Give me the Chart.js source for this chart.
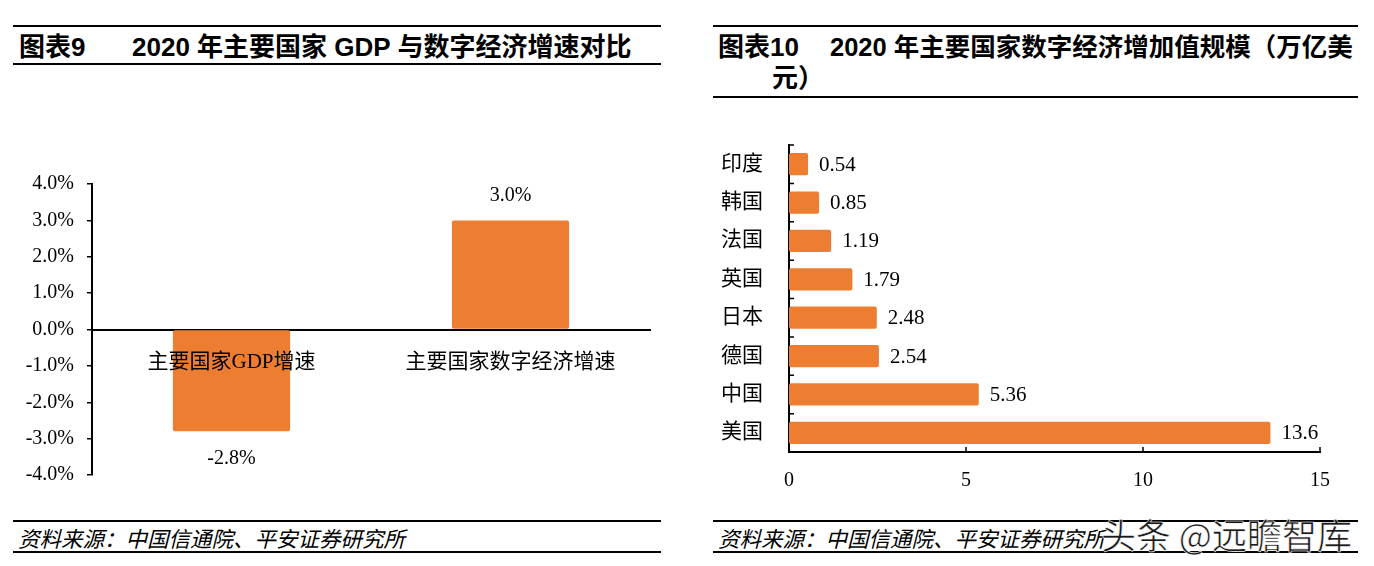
<!DOCTYPE html>
<html lang="zh">
<head>
  <meta charset="UTF-8" />
  <title>2020 年主要国家 GDP 与数字经济</title>
  <script src="https://cdn.jsdelivr.net/npm/chart.js"></script>
  <style>
    body {
      margin: 0;
      width: 1374px;
      height: 566px;
      background: #fff;
      position: relative;
      overflow: hidden;
      font-family: "Liberation Sans", "Noto Sans CJK SC", sans-serif;
    }
    .line { position: absolute; height: 2px; background: #000; }
    .title {
      position: absolute;
      font-weight: bold;
      font-size: 26px;
      color: #000;
      white-space: nowrap;
      line-height: 30px;
    }
    .source {
      position: absolute;
      font-style: italic;
      font-size: 21.5px;
      line-height: 24px;
      color: #000;
      font-family: "Noto Sans CJK SC", sans-serif;
      white-space: nowrap;
    }
    .mark {
      position: absolute;
      left: 1101px;
      top: 514px;
      font-size: 35px;
      line-height: 40px;
      color: #1a1a1a;
      font-family: "Noto Sans CJK SC", sans-serif;
      -webkit-text-stroke: 0.6px #fff;
      white-space: nowrap;
    }
    canvas { position: absolute; }
  </style>
</head>
<body>

  <div class="line" style="left:13px;top:25px;width:648px"></div>
  <div class="title" style="left:19px;top:32px">图表9</div>
  <div class="title" style="left:132px;top:32px">2020 年主要国家 GDP 与数字经济增速对比</div>
  <div class="line" style="left:13px;top:63px;width:648px"></div>

  <div class="line" style="left:713px;top:25px;width:645px"></div>
  <div class="title" style="left:718px;top:32px">图表10</div>
  <div class="title" style="left:830px;top:32px;font-size:25.5px">2020 年主要国家数字经济增加值规模（万亿美</div>
  <div class="title" style="left:772px;top:63px">元）</div>
  <div class="line" style="left:713px;top:96px;width:645px"></div>

  <div style="position:absolute;left:0;top:170px;width:680px;height:320px">
    <canvas id="growth"></canvas>
  </div>
  <div style="position:absolute;left:700px;top:130px;width:674px;height:370px">
    <canvas id="scale"></canvas>
  </div>

  <div class="line" style="left:13px;top:520px;width:648px"></div>
  <div class="source" style="left:18px;top:526px">资料来源：中国信通院、平安证券研究所</div>
  <div class="line" style="left:13px;top:551px;width:648px"></div>

  <div class="line" style="left:713px;top:520px;width:645px"></div>
  <div class="source" style="left:718px;top:526px">资料来源：中国信通院、平安证券研究所</div>
  <div class="line" style="left:713px;top:551px;width:645px"></div>

  <div class="mark">头条 @远瞻智库</div>

  <script>
    // 图表9
    const growthLabels = ['主要国家GDP增速', '主要国家数字经济增速'];
    const growthValues = [-2.8, 3.0];

    // 图表10
    const countries = ['印度', '韩国', '法国', '英国', '日本', '德国', '中国', '美国'];
    const digitalValues = [0.54, 0.85, 1.19, 1.79, 2.48, 2.54, 5.36, 13.6];

    const orange = '#ED7D31';
    const serif = '"Liberation Serif", "Noto Sans CJK SC", serif';

    // 数据标签
    const valueLabels = {
      id: 'valueLabels',
      afterDatasetsDraw(chart, args, opts) {
        const ctx = chart.ctx;
        const meta = chart.getDatasetMeta(0);
        const data = chart.data.datasets[0].data;
        ctx.save();
        ctx.fillStyle = '#000';
        ctx.font = opts.size + 'px ' + serif;
        meta.data.forEach((bar, i) => {
          const v = data[i];
          const text = opts.format(v);
          if (chart.options.indexAxis === 'y') {
            ctx.textAlign = 'left';
            ctx.textBaseline = 'middle';
            ctx.fillText(text, bar.x + 11, bar.y + 1);
          } else {
            ctx.textAlign = 'center';
            ctx.textBaseline = 'middle';
            const y = v >= 0 ? bar.y - 25 : bar.y + 27;
            ctx.fillText(text, bar.x, y);
          }
        });
        ctx.restore();
      }
    };

    // 朝内的刻度线
    const innerTicks = {
      id: 'innerTicks',
      afterDraw(chart) {
        if (chart.options.indexAxis !== 'y') return;
        const ctx = chart.ctx;
        const xs = chart.scales.x;
        const area = chart.chartArea;
        ctx.save();
        ctx.strokeStyle = '#000';
        ctx.lineWidth = 1.5;
        ctx.beginPath();
        xs.ticks.forEach(t => {
          const px = xs.getPixelForValue(t.value);
          ctx.moveTo(px, area.bottom);
          ctx.lineTo(px, area.bottom - 5);
        });
        const step = (area.bottom - area.top) / countries.length;
        for (let i = 0; i <= countries.length; i++) {
          const py = area.top + step * i;
          ctx.moveTo(area.left, py);
          ctx.lineTo(area.left + 5, py);
        }
        ctx.stroke();
        ctx.restore();
      }
    };

    new Chart(document.getElementById('growth'), {
      type: 'bar',
      data: {
        labels: growthLabels,
        datasets: [{
          data: growthValues,
          backgroundColor: orange,
          borderRadius: 2,
          borderSkipped: false,
          categoryPercentage: 1,
          barPercentage: 0.42
        }]
      },
      options: {
        responsive: true,
        maintainAspectRatio: false,
        animation: false,
        layout: { padding: { top: 14, right: 30, bottom: 15, left: 0 } },
        plugins: {
          legend: { display: false },
          tooltip: { enabled: false },
          valueLabels: { size: 20, format: v => v.toFixed(1) + '%' }
        },
        scales: {
          x: {
            position: { y: 0 },
            grid: { display: false },
            border: { color: '#000', width: 2 },
            ticks: {
              z: 1,
              color: '#000',
              padding: 12,
              font: { size: 21, family: serif }
            }
          },
          y: {
            min: -4,
            max: 4,
            afterFit(s) { s.width = 92; s.paddingTop = 0; s.paddingBottom = 0; },
            grid: { drawOnChartArea: false, drawTicks: true, tickLength: 5, color: '#000', lineWidth: 1.5 },
            border: { color: '#000', width: 2 },
            ticks: {
              stepSize: 1,
              color: '#000',
              padding: 13,
              font: { size: 20, family: serif },
              callback: v => v.toFixed(1) + '%'
            }
          }
        }
      },
      plugins: [valueLabels]
    });

    new Chart(document.getElementById('scale'), {
      type: 'bar',
      data: {
        labels: countries,
        datasets: [{
          data: digitalValues,
          backgroundColor: orange,
          borderRadius: 2,
          borderSkipped: false,
          categoryPercentage: 1,
          barPercentage: 0.58
        }]
      },
      options: {
        indexAxis: 'y',
        responsive: true,
        maintainAspectRatio: false,
        animation: false,
        layout: { padding: { top: 15, right: 54, bottom: 0, left: 0 } },
        plugins: {
          legend: { display: false },
          tooltip: { enabled: false },
          valueLabels: { size: 21, format: v => String(v) }
        },
        scales: {
          x: {
            min: 0,
            max: 15,
            afterFit(s) { s.height = 48; },
            grid: { display: false },
            border: { color: '#000', width: 2 },
            ticks: {
              stepSize: 5,
              color: '#000',
              padding: 9,
              font: { size: 20, family: serif }
            }
          },
          y: {
            afterFit(s) { s.width = 89; s.paddingTop = 0; s.paddingBottom = 0; },
            grid: { display: false },
            border: { color: '#000', width: 2 },
            ticks: {
              color: '#000',
              padding: 18,
              font: { size: 21, family: serif }
            }
          }
        }
      },
      plugins: [valueLabels, innerTicks]
    });
  </script>

</body>
</html>
